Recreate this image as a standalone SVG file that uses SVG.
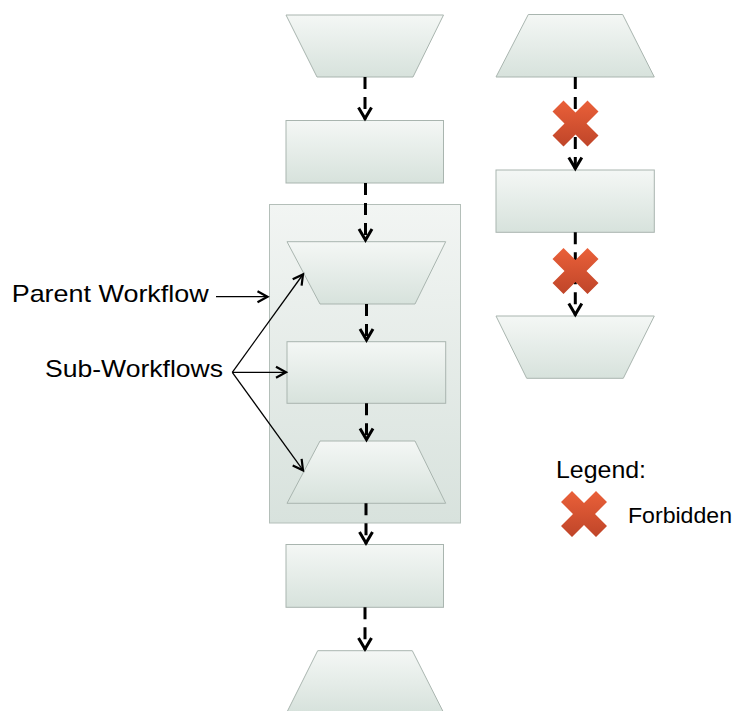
<svg xmlns="http://www.w3.org/2000/svg" xmlns:xlink="http://www.w3.org/1999/xlink" width="734" height="711" viewBox="0 0 734 711">
<style>
.node{fill:url(#gNode);stroke:#a9b5af;stroke-width:1}
.cont{fill:url(#gCont);stroke:#b4bfb9;stroke-width:1}
.dash{fill:none;stroke:#000;stroke-width:3;stroke-dasharray:12 8;marker-end:url(#vBig)}
.thin{fill:none;stroke:#000;stroke-width:1.3;marker-end:url(#vSmall)}
.lbl{font-family:"Liberation Sans",Arial,sans-serif;fill:#000}
</style>
<defs>
<linearGradient id="gNode" x1="0" y1="0" x2="0" y2="1">
<stop offset="0" stop-color="#f4f7f5"/>
<stop offset="1" stop-color="#d7e2dc"/>
</linearGradient>
<linearGradient id="gCont" x1="0" y1="0" x2="0" y2="1">
<stop offset="0" stop-color="#f2f5f3"/>
<stop offset="1" stop-color="#d8e2dd"/>
</linearGradient>
<linearGradient id="gX" x1="0" y1="0" x2="0" y2="1">
<stop offset="0" stop-color="#ea6039"/>
<stop offset="1" stop-color="#bf4529"/>
</linearGradient>
<marker id="vBig" markerUnits="userSpaceOnUse" markerWidth="20" markerHeight="20" viewBox="-14 -10 18 20" refX="1" refY="0" orient="auto">
<path d="M-11,-6.5 L0,0 L-11,6.5" fill="none" stroke="#000" stroke-width="3"/>
</marker>
<marker id="vSmall" markerUnits="userSpaceOnUse" markerWidth="20" markerHeight="20" viewBox="-14 -10 18 20" refX="0.5" refY="0" orient="auto">
<path d="M-10,-5.5 L0,0 L-10,5.5" fill="none" stroke="#000" stroke-width="2.2"/>
</marker>
<polygon id="xmark" points="-23,-12 -12,-23 0,-11 12,-23 23,-12 11,0 23,12 12,23 0,11 -12,23 -23,12 -11,0" fill="url(#gX)"/>
</defs>

<g id="parent-workflow">
<rect class="cont" x="269.5" y="204.5" width="191" height="318.5"/>
</g>

<g id="n1"><polygon class="node" points="286,15 443.5,15 413,77 317,77"/></g>
<g id="n2"><rect class="node" x="286" y="120.5" width="157.5" height="62.5"/></g>
<g id="s1"><polygon class="node" points="287,241.7 445.7,241.7 415,304 320,304"/></g>
<g id="s2"><rect class="node" x="287" y="341.7" width="158.7" height="61.6"/></g>
<g id="s3"><polygon class="node" points="320,441 415,441 445.7,503.3 287,503.3"/></g>
<g id="n4"><rect class="node" x="286" y="544.5" width="157.5" height="62.8"/></g>
<g id="n5"><polygon class="node" points="317.7,650.7 412.3,650.7 443.3,712 287,712"/></g>

<g id="r1"><polygon class="node" points="528.3,14.5 622.7,14.5 654.3,77 496,77"/></g>
<g id="r2"><rect class="node" x="496" y="170" width="158.3" height="62.3"/></g>
<g id="r3"><polygon class="node" points="496,316 654.3,316 623.3,378.3 526.7,378.3"/></g>

<g id="connectors">
<line class="dash" x1="365" y1="77" x2="365" y2="119.5"/>
<line class="dash" x1="365.5" y1="183" x2="365.5" y2="241"/>
<line class="dash" x1="366.5" y1="304" x2="366.5" y2="341"/>
<line class="dash" x1="366.5" y1="403.3" x2="366.5" y2="440.5"/>
<line class="dash" x1="366" y1="503.3" x2="366" y2="544"/>
<line class="dash" x1="365" y1="607.3" x2="365" y2="650"/>
<line class="dash" x1="575.3" y1="77" x2="575.3" y2="169.5"/>
<line class="dash" x1="575.3" y1="232.3" x2="575.3" y2="315.5"/>
<line class="thin" x1="216" y1="296.7" x2="268" y2="296.7"/>
<line class="thin" x1="232.3" y1="372.3" x2="303.3" y2="274"/>
<line class="thin" x1="232.3" y1="372.3" x2="286.5" y2="372.3"/>
<line class="thin" x1="232.3" y1="372.3" x2="303.3" y2="470.7"/>
</g>

<g id="forbidden-marks">
<use xlink:href="#xmark" href="#xmark" x="575.5" y="123.5"/>
<use xlink:href="#xmark" href="#xmark" x="575.5" y="271"/>
</g>

<g id="labels">
<text class="lbl" x="11.7" y="301.7" font-size="24" textLength="197" lengthAdjust="spacingAndGlyphs">Parent Workflow</text>
<text class="lbl" x="45" y="376.7" font-size="24" textLength="178" lengthAdjust="spacingAndGlyphs">Sub-Workflows</text>
</g>

<g id="legend">
<text class="lbl" x="556" y="477.5" font-size="24" textLength="90" lengthAdjust="spacingAndGlyphs">Legend:</text>
<use xlink:href="#xmark" href="#xmark" x="584" y="514"/>
<text class="lbl" x="628" y="523" font-size="22" textLength="104" lengthAdjust="spacingAndGlyphs">Forbidden</text>
</g>
</svg>
